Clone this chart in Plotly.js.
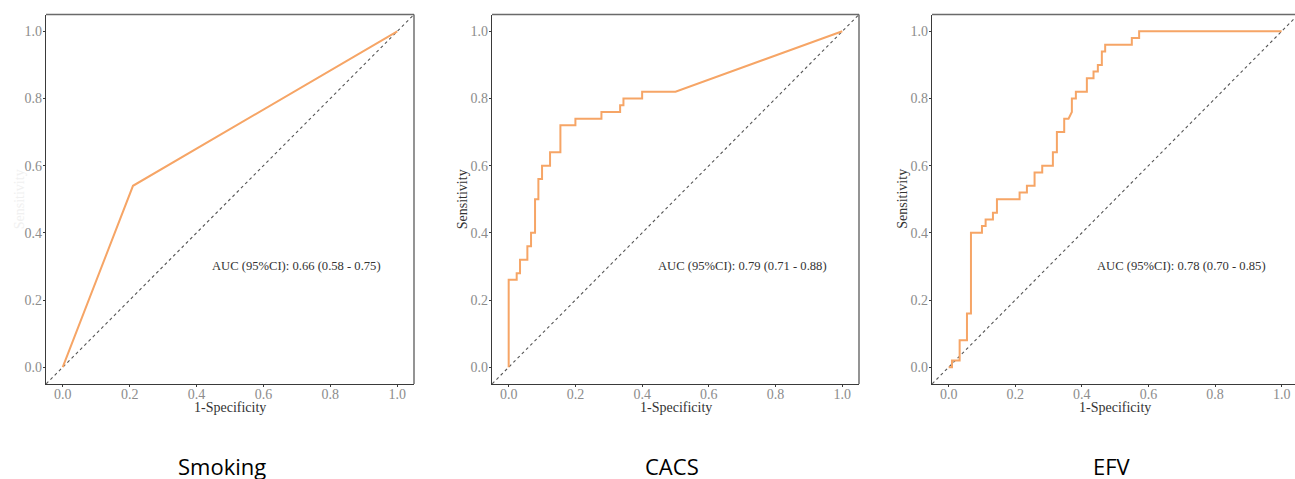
<!DOCTYPE html>
<html>
<head>
<meta charset="utf-8">
<script src="https://cdn.plot.ly/plotly-3.0.1.min.js"></script>
<style>html,body{margin:0;padding:0;background:#fff;}#chart{width:1295px;height:479px;}</style>
</head>
<body>
<div id="chart"></div>
<script>
// ---- data ----
var panelNames = ["Smoking", "CACS", "EFV"];
var aucLabels = ["AUC (95%CI): 0.66 (0.58 - 0.75)", "AUC (95%CI): 0.79 (0.71 - 0.88)", "AUC (95%CI): 0.78 (0.70 - 0.85)"];

var smokingFpr = [0, 0.21, 1];
var smokingTpr = [0, 0.54, 1];

var cacsFpr = [0, 0, 0.024, 0.024, 0.034, 0.034, 0.056, 0.056, 0.067, 0.067, 0.079, 0.079, 0.089, 0.089, 0.10, 0.10, 0.124, 0.124, 0.155, 0.155, 0.20, 0.20, 0.278, 0.278, 0.334, 0.334, 0.344, 0.344, 0.40, 0.40, 0.50, 1];
var cacsTpr = [0, 0.26, 0.26, 0.28, 0.28, 0.32, 0.32, 0.36, 0.36, 0.40, 0.40, 0.50, 0.50, 0.56, 0.56, 0.60, 0.60, 0.64, 0.64, 0.72, 0.72, 0.74, 0.74, 0.76, 0.76, 0.78, 0.78, 0.80, 0.80, 0.82, 0.82, 1];

var efvFpr = [0, 0.01, 0.01, 0.033, 0.033, 0.055, 0.055, 0.067, 0.067, 0.10, 0.10, 0.111, 0.111, 0.133, 0.133, 0.145, 0.145, 0.213, 0.213, 0.235, 0.235, 0.258, 0.258, 0.281, 0.281, 0.313, 0.313, 0.325, 0.325, 0.347, 0.347, 0.36, 0.37, 0.37, 0.382, 0.382, 0.415, 0.415, 0.435, 0.435, 0.448, 0.448, 0.46, 0.46, 0.47, 0.47, 0.55, 0.55, 0.572, 0.572, 1];
var efvTpr = [0, 0, 0.02, 0.02, 0.08, 0.08, 0.16, 0.16, 0.40, 0.40, 0.42, 0.42, 0.44, 0.44, 0.46, 0.46, 0.50, 0.50, 0.52, 0.52, 0.54, 0.54, 0.58, 0.58, 0.60, 0.60, 0.64, 0.64, 0.70, 0.70, 0.74, 0.74, 0.76, 0.80, 0.80, 0.82, 0.82, 0.86, 0.86, 0.88, 0.88, 0.90, 0.90, 0.94, 0.94, 0.96, 0.96, 0.98, 0.98, 1, 1];

var refLine = [-0.1, 1.1];
var tickValues = [0, 0.2, 0.4, 0.6, 0.8, 1.0];
var tickLabels = ["0.0", "0.2", "0.4", "0.6", "0.8", "1.0"];

// ---- layout geometry ----
var W = 1295, H = 479;
var xDomains = [[46 / W, 414 / W], [492 / W, 859 / W], [932 / W, 1]];
var yDomain = [1 - 384 / H, 1 - 14.5 / H];
var xRanges = [[-0.05, 1.05], [-0.05, 1.05], [-0.05, 1.04]];
var yRange = [-0.05, 1.05];

var curves = [[smokingFpr, smokingTpr], [cacsFpr, cacsTpr], [efvFpr, efvTpr]];
var orange = "#F6A566";
var serif = "Liberation Serif, DejaVu Serif, serif";

var traces = [];
var layout = {
  width: W, height: H,
  margin: {l: 0, r: 0, t: 0, b: 0},
  paper_bgcolor: "#fff", plot_bgcolor: "#fff",
  showlegend: false,
  shapes: [], annotations: []
};

for (var i = 0; i < 3; i++) {
  var sfx = i === 0 ? "" : String(i + 1);
  var xa = "x" + sfx, ya = "y" + sfx;
  traces.push({
    x: refLine, y: refLine, xaxis: xa, yaxis: ya, type: "scatter", mode: "lines",
    line: {color: "#555", width: 1.1, dash: "3px,3px"}, hoverinfo: "skip"
  });
  traces.push({
    x: curves[i][0], y: curves[i][1], xaxis: xa, yaxis: ya, type: "scatter", mode: "lines",
    line: {color: orange, width: 2}, hoverinfo: "skip"
  });
  var axCommon = {
    showgrid: false, zeroline: false, showline: true, linecolor: "#3a3a3a", linewidth: 1.3,
    ticks: "outside", ticklen: 2, tickwidth: 1, tickcolor: "#3a3a3a",
    tickvals: tickValues, ticktext: tickLabels,
    tickfont: {family: serif, size: 14, color: "#8c8c8c"},
    fixedrange: true
  };
  layout["xaxis" + sfx] = Object.assign({}, axCommon, {domain: xDomains[i], range: xRanges[i], anchor: ya, ticklabelstandoff: -5});
  layout["yaxis" + sfx] = Object.assign({}, axCommon, {domain: yDomain, range: yRange, anchor: xa, ticklabelstandoff: -2});

  // top border
  layout.shapes.push({type: "line", xref: xa + " domain", yref: ya + " domain", x0: 0, x1: 1, y0: 1, y1: 1,
    line: {color: "#6a6a6a", width: 1.3}});
  if (i < 2) {
    layout.shapes.push({type: "line", xref: xa + " domain", yref: ya + " domain", x0: 1, x1: 1, y0: 0, y1: 1,
      line: {color: "#5a5a5a", width: 1.3}});
  }

  // AUC label
  layout.annotations.push({xref: xa, yref: ya, x: 0.7, y: 0.3, text: aucLabels[i], showarrow: false,
    font: {family: serif, size: 12.6, color: "#333"}, xanchor: "center", yanchor: "middle"});
  // x axis title
  layout.annotations.push({xref: xa, yref: "paper", x: 0.5, y: 1 - 407 / H, text: "1-Specificity",
    showarrow: false, font: {family: serif, size: 14, color: "#333"}, xanchor: "center", yanchor: "middle"});
  // y axis title
  var yTitleX = [19, 462, 902.5][i];
  layout.annotations.push({xref: "paper", yref: "paper", x: yTitleX / W, y: (yDomain[0] + yDomain[1]) / 2,
    text: "Sensitivity", textangle: -90, showarrow: false,
    font: {family: serif, size: 14, color: i === 0 ? "#f0f0f0" : "#333"}, xanchor: "center", yanchor: "middle"});
  // panel name below
  var nameX = [222, 672, 1112][i];
  layout.annotations.push({xref: "paper", yref: "paper", x: nameX / W, y: 1 - 466 / H, text: panelNames[i],
    showarrow: false, font: {family: "Open Sans, Noto Sans, sans-serif", size: 22, color: "#000"},
    xanchor: "center", yanchor: "middle"});
}

Plotly.newPlot("chart", traces, layout, {staticPlot: true, displayModeBar: false});
</script>
</body>
</html>
